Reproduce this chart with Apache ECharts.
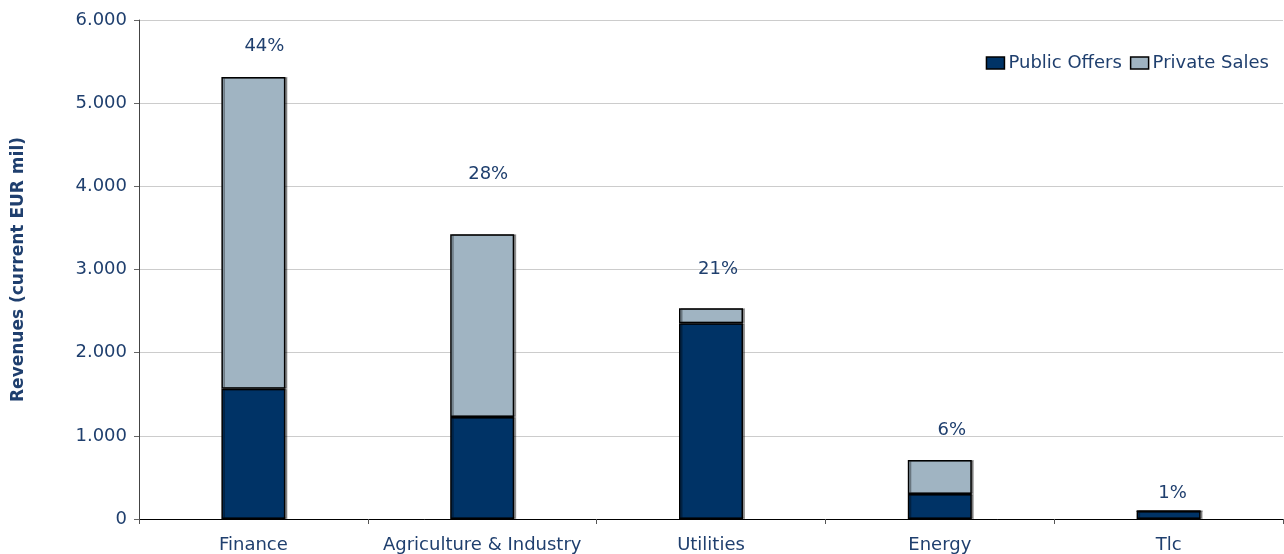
<!DOCTYPE html>
<html>
<head>
<meta charset="utf-8">
<script src="https://cdn.jsdelivr.net/npm/echarts@6/dist/echarts.min.js"></script>
<style>
  html, body { margin: 0; padding: 0; background: #fff; }
  #chart { width: 1284px; height: 554px; }
</style>
</head>
<body>
<div id="chart"></div>
<script>
// values (EUR mil)
const categories = ["Finance", "Agriculture & Industry", "Utilities", "Energy", "Tlc"];
const publicOffers = [1565, 1225, 2355, 300, 95];
const privateSales = [3750, 2200, 180, 410, 0];
const shareLabels = ["44%", "28%", "21%", "6%", "1%"];
const yTicks = [0, 1000, 2000, 3000, 4000, 5000, 6000];

// where the share labels sit relative to the bar top, px [dx, gap]
const labelPos = [[11, 22], [6, 51], [7, 30], [12, 21], [4, 9]];

const navy = "#1F3F6E";
const font = "DejaVu Sans";
const fs = 18;

const chart = echarts.init(document.getElementById("chart"));

const barStyle = (color) => ({
  color: color,
  borderColor: "#000",
  borderWidth: 1.5,
  shadowColor: "rgba(0,0,0,0.35)",
  shadowOffsetX: 2,
  shadowOffsetY: 0,
  shadowBlur: 0
});

const option = {
  animation: false,
  textStyle: { fontFamily: font },
  grid: { left: 139, right: 1, top: 20, bottom: 35 },
  legend: {
    data: ["Public Offers", "Private Sales"],
    icon: "rect",
    right: 10,
    top: 49,
    itemWidth: 18,
    itemHeight: 12,
    itemGap: 8,
    itemStyle: { borderColor: "#000", borderWidth: 1.5 },
    textStyle: { color: navy, fontSize: fs, fontFamily: font, padding: [0, 0, 0, -1] }
  },
  xAxis: {
    type: "category",
    data: categories,
    axisLine: { lineStyle: { color: "#000", width: 1 } },
    axisTick: { show: true, interval: 0, length: 5, lineStyle: { color: "#555" } },
    axisLabel: { color: navy, fontSize: fs, margin: 17, interval: 0 }
  },
  yAxis: {
    type: "value",
    min: yTicks[0],
    max: yTicks[yTicks.length - 1],
    interval: 1000,
    name: "Revenues (current EUR mil)",
    nameLocation: "middle",
    nameGap: 112,
    nameTextStyle: { color: navy, fontSize: 17, fontWeight: "bold" },
    axisLine: { show: true, lineStyle: { color: "#444" } },
    axisTick: { show: true, length: 5, lineStyle: { color: "#666" } },
    axisLabel: {
      color: navy,
      fontSize: fs,
      margin: 12,
      formatter: (v) => v === 0 ? "0" : v.toLocaleString("de-DE")
    },
    splitLine: { lineStyle: { color: "#CCCCCC", width: 1 } }
  },
  series: [
    {
      name: "Public Offers",
      type: "bar",
      stack: "total",
      barWidth: 64,
      data: publicOffers,
      itemStyle: barStyle("#003366")
    },
    {
      name: "Private Sales",
      type: "bar",
      stack: "total",
      barWidth: 64,
      data: privateSales,
      itemStyle: barStyle("#A0B4C2")
    },
    {
      name: "share",
      type: "bar",
      stack: "total",
      barWidth: 64,
      silent: true,
      data: shareLabels.map((s, i) => ({
        value: 0,
        label: {
          show: true,
          position: "top",
          distance: labelPos[i][1],
          offset: [labelPos[i][0], 0],
          formatter: s,
          color: navy,
          fontSize: fs,
          fontFamily: font
        }
      })),
      itemStyle: { color: "transparent", borderWidth: 0 }
    }
  ]
};

chart.setOption(option);
</script>
</body>
</html>
